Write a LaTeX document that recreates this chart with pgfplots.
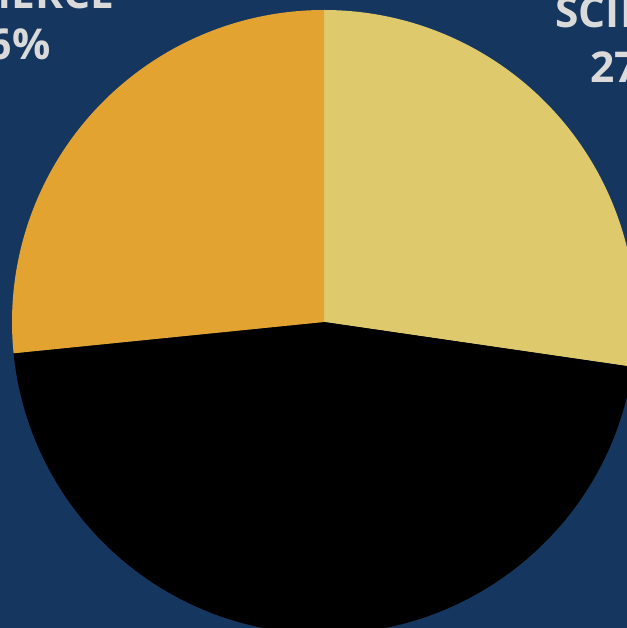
\documentclass[border=0pt]{standalone}
\usepackage{pgfplots}
\pgfplotsset{compat=1.18}
\usepackage{pgfplotstable}
\usepackage{fontspec}
\setmainfont{Open Sans}
\definecolor{bg}{RGB}{21,54,94}
\definecolor{pieyellow}{RGB}{222,201,108}
\definecolor{pieorange}{RGB}{226,163,48}
\definecolor{labelgray}{RGB}{218,218,218}
\pgfplotstableread{
label value color
Science 27.3 pieyellow
Other 46.1 black
Commerce 26.6 pieorange
}\piedata
\begin{document}
\begin{tikzpicture}
\begin{axis}[x=0.4pt,y=0.4pt,xmin=0,xmax=627,ymin=0,ymax=628,hide axis,clip=false]
\fill[bg] (rel axis cs:0,0) rectangle (rel axis cs:1,1);
\coordinate (C) at (axis cs:324,306);
\coordinate (SW) at (rel axis cs:0,0);
\coordinate (NE) at (rel axis cs:1,1);
\coordinate (Lcom) at (axis cs:115,619.5);
\coordinate (Lcomp) at (axis cs:51,568);
\coordinate (Lsci) at (axis cs:555,600);
\coordinate (Lscip) at (axis cs:590,545);
\end{axis}
\def\angstart{90}
\pgfplotstablegetrowsof{\piedata}
\pgfmathtruncatemacro\lastrow{\pgfplotsretval-1}
\pgfplotsforeachungrouped \i in {0,...,\lastrow}{%
  \pgfplotstablegetelem{\i}{value}\of\piedata
  \let\v\pgfplotsretval
  \pgfplotstablegetelem{\i}{color}\of\piedata
  \edef\c{\pgfplotsretval}%
  \pgfmathsetmacro\angend{\angstart-3.6*\v}%
  \fill[color=\c] (C) -- ++(\angstart:124.8pt) arc[start angle=\angstart, end angle=\angend, radius=124.8pt] -- cycle;
  \global\let\angstart\angend
}
\begin{scope}[every node/.style={inner sep=0pt,text=labelgray,font=\fontsize{17}{20}\selectfont\bfseries}]
\node[anchor=base east] at (Lcom) {COMMERCE};
\node[anchor=base east] at (Lcomp) {26\%};
\node[anchor=base west] at (Lsci) {SCIENCE};
\node[anchor=base west] at (Lscip) {27\%};
\end{scope}
\pgfresetboundingbox
\path[use as bounding box] (SW) rectangle (NE);
\end{tikzpicture}
\end{document}
